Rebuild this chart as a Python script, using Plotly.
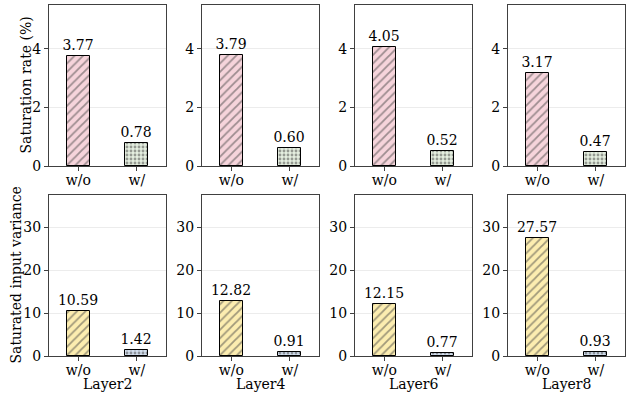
import plotly.graph_objects as go
from plotly.subplots import make_subplots

layers = ["Layer2", "Layer4", "Layer6", "Layer8"]
conditions = ["w/o", "w/"]
rate_wo = [3.77, 3.79, 4.05, 3.17]
rate_w = [0.78, 0.60, 0.52, 0.47]
var_wo = [10.59, 12.82, 12.15, 27.57]
var_w = [1.42, 0.91, 0.77, 0.93]
rate_ticks = [0, 2, 4]
var_ticks = [0, 10, 20, 30]

FONT = "DejaVu Serif"
FS = 14
W, H = 626, 396
ML, MR, MT, MB = 49, 1, 5, 40

fig = make_subplots(rows=2, cols=4, horizontal_spacing=36 / 576, vertical_spacing=29 / 351)

row_specs = [
    (1, rate_wo, rate_w, "#f6d4db", "#e4eedf", [0, 5.5], rate_ticks),
    (2, var_wo, var_w, "#fcedb0", "#d3dfee", [0, 37.5], var_ticks),
]

for row, wo, w, c_wo, c_w, yr, ticks in row_specs:
    for i in range(4):
        col = i + 1
        vals = [wo[i], w[i]]
        fig.add_trace(
            go.Bar(
                x=conditions,
                y=vals,
                width=0.4,
                text=[f"{v:.2f}" for v in vals],
                textposition="outside",
                constraintext="none",
                textfont=dict(family=FONT, size=FS, color="black"),
                cliponaxis=False,
                marker=dict(
                    color=[c_wo, c_w],
                    line=dict(color="black", width=1),
                    pattern=dict(
                        shape=["/", "."],
                        fgcolor="black",
                        size=[6, 4],
                        solidity=[0.3, 0.4],
                    ),
                ),
                showlegend=False,
            ),
            row=row,
            col=col,
        )
        fig.update_yaxes(range=yr, tickvals=ticks, row=row, col=col)
        fig.update_xaxes(range=[-0.5, 1.5], row=row, col=col)

fig.update_xaxes(
    showline=True, mirror=True, linecolor="#404040", linewidth=1,
    ticks="outside", ticklen=4, tickcolor="#404040", ticklabelstandoff=-3,
    tickfont=dict(family=FONT, size=FS, color="black"),
    showgrid=False, zeroline=False, type="category", automargin=False,
)
fig.update_yaxes(
    showline=True, mirror=True, linecolor="#404040", linewidth=1,
    ticks="outside", ticklen=4, tickcolor="#404040",
    tickfont=dict(family=FONT, size=FS, color="black"),
    showgrid=True, gridcolor="#ececec", gridwidth=1, zeroline=False, automargin=False,
)

# Layer labels under the bottom row
for i, name in enumerate(layers):
    xa = fig.layout[f"xaxis{i + 5}"]
    d0, d1 = xa.domain
    fig.add_annotation(
        text=name, xref="paper", yref="paper",
        x=(d0 + d1) / 2, y=-(384 - (H - MB)) / (H - MT - MB),
        showarrow=False, xanchor="center", yanchor="middle",
        font=dict(family=FONT, size=FS, color="black"),
    )

fig.add_annotation(
    text="Saturation rate (%)", textangle=-90,
    xref="paper", yref="paper", x=(35 - ML) / (W - ML - MR), y=(H - MB - (5 + 166) / 2) / (H - MT - MB),
    showarrow=False, xanchor="right", yanchor="middle",
    font=dict(family=FONT, size=FS, color="black"),
)
fig.add_annotation(
    text="Saturated input variance", textangle=-90,
    xref="paper", yref="paper", x=(25 - ML) / (W - ML - MR), y=(H - MB - (195 + 356) / 2) / (H - MT - MB),
    showarrow=False, xanchor="right", yanchor="middle",
    font=dict(family=FONT, size=FS, color="black"),
)

fig.update_layout(
    width=W, height=H,
    margin=dict(l=ML, r=MR, t=MT, b=MB, autoexpand=False),
    plot_bgcolor="white", paper_bgcolor="white",
    font=dict(family=FONT, size=FS, color="black"),
    bargap=0,
)

fig.write_html(
    "out.html",
    config={"displayModeBar": False},
    post_script="document.body.style.margin='0';document.body.style.overflow='hidden';",
)
